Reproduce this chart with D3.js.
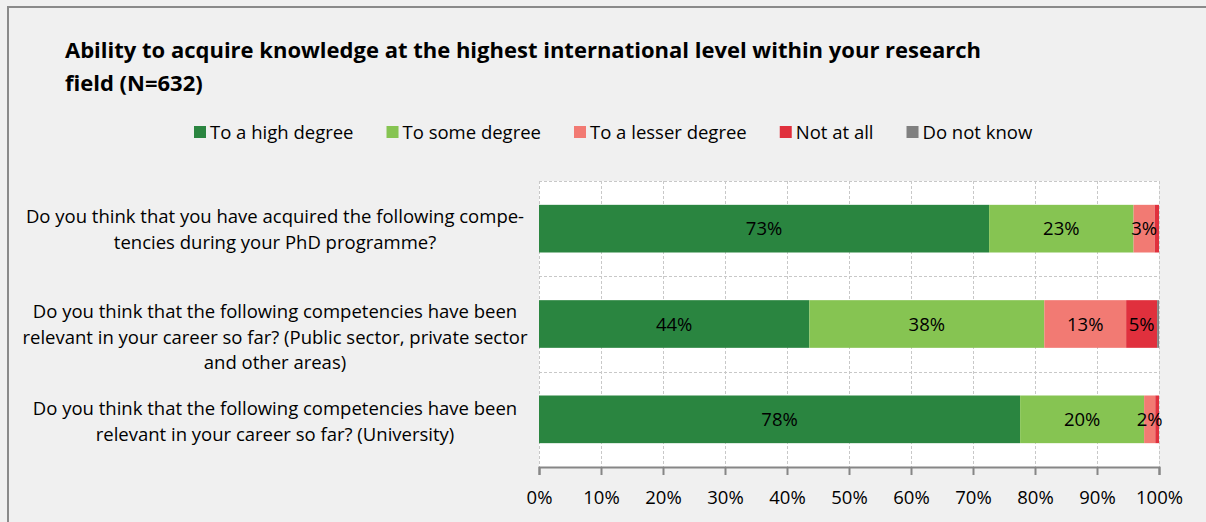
<!DOCTYPE html>
<html><head><meta charset="utf-8">
<script src="https://cdn.jsdelivr.net/npm/d3@7"></script>
<style>
html,body{margin:0;padding:0;background:#f0f0f0;}
svg{display:block;}
text{font-family:"Open Sans",Lato,sans-serif;fill:#000;}
</style></head>
<body>
<svg id="chart" width="1206" height="522"></svg>
<script>
const title = ["Ability to acquire knowledge at the highest international level within your research", "field (N=632)"];
const seriesNames = ["To a high degree", "To some degree", "To a lesser degree", "Not at all", "Do not know"];
const seriesColors = ["#2a8540", "#86c452", "#f27a73", "#e0303d", "#808080"];
const categories = ["Q1", "Q2", "Q3"];
const categoryLabels = [
  ["Do you think that you have acquired the following compe-", "tencies during your PhD programme?"],
  ["Do you think that the following competencies have been", "relevant in your career so far? (Public sector, private sector", "and other areas)"],
  ["Do you think that the following competencies have been", "relevant in your career so far? (University)"]
];
const highDegree   = [72.6, 43.6, 77.6];
const someDegree   = [23.3, 37.9, 20.0];
const lesserDegree = [3.4, 13.2, 1.8];
const notAtAll     = [0.7, 5.0, 0.6];
const doNotKnow    = [0.0, 0.3, 0.0];
const tickValues = [0,10,20,30,40,50,60,70,80,90,100];
const tickLabels = ["0%","10%","20%","30%","40%","50%","60%","70%","80%","90%","100%"];

// layout-only tweak: vertical shift of each category label block (px)
const labelShift = [0.5, 13, 2];

const svg = d3.select("#chart");
const W = 1206, H = 522;
svg.append("rect").attr("width", W).attr("height", H).attr("fill", "#f0f0f0");
svg.append("line").attr("x1", 7).attr("x2", W).attr("y1", 7).attr("y2", 7).attr("stroke", "#8a8a8a").attr("stroke-width", 2);
svg.append("line").attr("x1", 8).attr("x2", 8).attr("y1", 6).attr("y2", H).attr("stroke", "#8a8a8a").attr("stroke-width", 2);

const plot = {left: 539, right: 1159, top: 181, bottom: 467};
const x = d3.scaleLinear().domain([0, 100]).range([plot.left, plot.right]);
const y = d3.scaleBand().domain(categories).range([plot.top, plot.bottom]).paddingInner(0.5).paddingOuter(0.25);

svg.append("rect").attr("x", plot.left).attr("y", plot.top).attr("width", plot.right - plot.left).attr("height", plot.bottom - plot.top).attr("fill", "#fff");

const grid = svg.append("g").attr("stroke", "#c8c8c8").attr("stroke-dasharray", "3,2").attr("stroke-width", 1);
grid.selectAll("line.v").data(tickValues).join("line")
  .attr("x1", d => Math.round(x(d)) + 0.5).attr("x2", d => Math.round(x(d)) + 0.5)
  .attr("y1", plot.top).attr("y2", plot.bottom);
const hLines = categories.map(c => y(c) - y.step() * y.paddingInner() / 2);
grid.selectAll("line.h").data(hLines).join("line")
  .attr("x1", plot.left).attr("x2", plot.right)
  .attr("y1", d => Math.round(d) + 0.5).attr("y2", d => Math.round(d) + 0.5);

const seriesArrays = [highDegree, someDegree, lesserDegree, notAtAll, doNotKnow];
const rows = categories.map((c, i) => {
  const o = {cat: c};
  seriesNames.forEach((s, j) => o[s] = seriesArrays[j][i]);
  return o;
});
const stack = d3.stack().keys(seriesNames)(rows);

const bars = svg.append("g");
stack.forEach((layer, j) => {
  bars.selectAll(null).data(layer).join("rect")
    .attr("x", d => x(d[0]))
    .attr("y", d => y(d.data.cat))
    .attr("width", d => Math.max(0, x(d[1]) - x(d[0])))
    .attr("height", y.bandwidth())
    .attr("fill", seriesColors[j]);
});
stack.forEach((layer, j) => {
  bars.selectAll(null).data(layer.filter(d => d[1] - d[0] >= 1.5)).join("text")
    .attr("x", d => (x(d[0]) + x(d[1])) / 2)
    .attr("y", d => y(d.data.cat) + y.bandwidth() / 2)
    .attr("dy", "0.36em")
    .attr("text-anchor", "middle")
    .attr("font-size", 18.5)
    .text(d => Math.round(d[1] - d[0]) + "%");
});

const axis = d3.axisBottom(x).tickValues(tickValues).tickFormat((d, i) => tickLabels[i]).tickSize(8).tickPadding(16);
const ax = svg.append("g").attr("transform", `translate(0,${plot.bottom})`).call(axis);
ax.select(".domain").attr("stroke", "#868686").attr("stroke-width", 2);
ax.selectAll(".tick line").attr("stroke", "#868686").attr("stroke-width", 2);
ax.selectAll(".tick text").attr("font-size", 18.5).attr("font-family", "'Open Sans', sans-serif").attr("fill", "#000");

const lineH = 25.5;
categories.forEach((c, i) => {
  const lines = categoryLabels[i];
  const cy = y(c) + y.bandwidth() / 2 + labelShift[i];
  const t = svg.append("text").attr("text-anchor", "middle").attr("font-size", 18.5);
  lines.forEach((l, k) => {
    t.append("tspan").attr("x", 275).attr("y", cy + (k - (lines.length - 1) / 2) * lineH).attr("dy", "0.36em").text(l);
  });
});

svg.append("text").attr("font-size", 22).attr("font-weight", "bold")
  .selectAll("tspan").data(title).join("tspan")
  .attr("x", 65).attr("y", (d, i) => 58 + i * 33).text(d => d);

const lg = svg.append("g");
let lx = 194;
seriesNames.forEach((s, j) => {
  lg.append("rect").attr("x", lx).attr("y", 126).attr("width", 12).attr("height", 12).attr("fill", seriesColors[j]);
  const t = lg.append("text").attr("x", lx + 16).attr("y", 139).attr("font-size", 18.5).text(s);
  const w = t.node().getComputedTextLength();
  lx += 16 + w + 33;
});
</script>
</body></html>
